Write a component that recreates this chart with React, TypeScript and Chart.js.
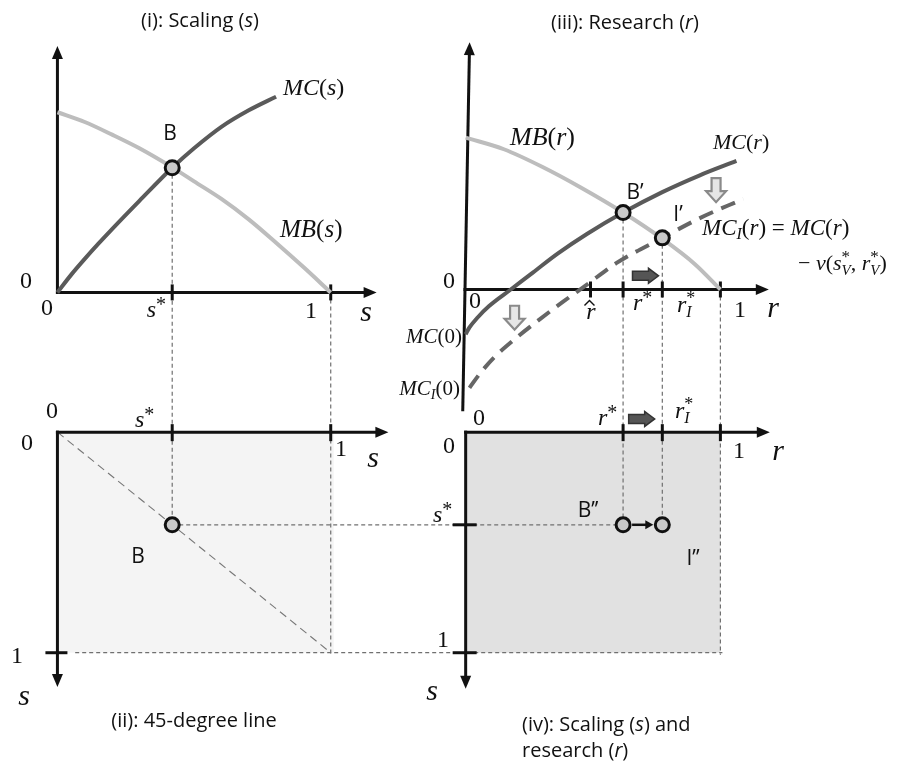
import React, { useEffect, useRef } from 'react';
import { Chart, registerables } from 'chart.js';

Chart.register(...registerables);

// ---------------- data ----------------
const S_STAR = 0.42;
const R_STAR = 0.618;
const R_I_STAR = 0.772;
const R_HAT = 0.49;

// panel (i): scaling
const MC_S_X = [0, 0.05, 0.1, 0.15, 0.2, 0.3, 0.42, 0.5, 0.6, 0.7, 0.8];
const MC_S_Y = [0, 0.09, 0.172, 0.25, 0.325, 0.47, 0.64, 0.74, 0.85, 0.935, 1.005];
const MB_S_X = [0, 0.1, 0.2, 0.3, 0.42, 0.5, 0.6, 0.7, 0.8, 0.9, 1.0];
const MB_S_Y = [0.925, 0.875, 0.81, 0.74, 0.642, 0.57, 0.48, 0.375, 0.255, 0.13, 0];

// panel (iii): research
const MB_R_X = [0, 0.15, 0.3, 0.45, 0.618, 0.772, 0.9, 1.0];
const MB_R_Y = [0.78, 0.72, 0.63, 0.525, 0.395, 0.26, 0.13, 0];
const MC_R_X = [0, 0.015, 0.046, 0.092, 0.177, 0.265, 0.361, 0.476, 0.618, 0.772, 0.917, 1.063];
const MC_R_Y = [-0.23, -0.195, -0.145, -0.085, 0, 0.088, 0.184, 0.285, 0.395, 0.5, 0.585, 0.66];
const MCI_R_X = [0.015, 0.054, 0.111, 0.188, 0.284, 0.38, 0.476, 0.591, 0.772, 0.917, 1.09];
const MCI_R_Y = [-0.505, -0.435, -0.35, -0.26, -0.16, -0.065, 0.025, 0.135, 0.265, 0.365, 0.465];

// equilibrium values
const B_VALUE = 0.64;      // MB(s*) = MC(s*)
const BP_VALUE = 0.395;    // MB(r*) = MC(r*)
const IP_VALUE = 0.265;    // MB(rI*) = MC_I(rI*)

// ---------------- layout ----------------
const W = 902;
const H = 764;
const L = {
  sOrigin: 48.5, sUnit: 279.5,
  rOrigin: 466, rUnit: 260.5,
  vIOrigin: 290, vIIIOrigin: 287, vUnit: 200,
  sdOrigin: 433.5, sdUnit: 226.5,
};

const zip = (xs: number[], ys: number[]) => xs.map((x, i) => ({ x, y: ys[i] }));

const it = (n: number) => `italic ${n}px "Liberation Serif"`;
const rm = (n: number) => `${n}px "Liberation Serif"`;
const sans = (n: number) => `${n}px "Open Sans"`;
const sansI = (n: number) => `italic ${n}px "Open Sans"`;

type Seg = { t: string; f: string; dy?: number; stay?: boolean };
type Label = { x: number; y: number; a: 'left' | 'center' | 'right'; s: Seg[] };

const fn = (name: string, arg: string, n: number, sub?: string): Seg[] => {
  const segs: Seg[] = [{ t: name, f: it(n) }];
  if (sub) segs.push({ t: sub, f: it(Math.round(n * 0.68)), dy: 4 });
  segs.push({ t: '(', f: rm(n) });
  segs.push({ t: arg, f: /\d/.test(arg) ? rm(n) : it(n) });
  segs.push({ t: ')', f: rm(n) });
  return segs;
};
const star = (v: string, n: number, sub?: string): Seg[] => {
  const segs: Seg[] = [{ t: v, f: it(n) }];
  if (sub) {
    segs.push({ t: '*', f: rm(Math.round(n * 0.75)), dy: -8, stay: true });
    segs.push({ t: sub, f: it(Math.round(n * 0.66)), dy: 5 });
  } else {
    segs.push({ t: '*', f: rm(Math.round(n * 0.83)), dy: -6 });
  }
  return segs;
};
const txt = (t: string, f: string): Seg[] => [{ t, f }];

const LABELS: Label[] = [
  // titles
  { x: 200, y: 27, a: 'center', s: [{ t: '(i): Scaling (', f: sans(20) }, { t: 's', f: sansI(20) }, { t: ')', f: sans(20) }] },
  { x: 625, y: 29, a: 'center', s: [{ t: '(iii): Research (', f: sans(20) }, { t: 'r', f: sansI(20) }, { t: ')', f: sans(20) }] },
  { x: 194, y: 727, a: 'center', s: txt('(ii): 45-degree line', sans(20)) },
  { x: 522, y: 731, a: 'left', s: [{ t: '(iv): Scaling (', f: sans(20) }, { t: 's', f: sansI(20) }, { t: ') and', f: sans(20) }] },
  { x: 522, y: 757, a: 'left', s: [{ t: 'research (', f: sans(20) }, { t: 'r', f: sansI(20) }, { t: ')', f: sans(20) }] },
  // panel (i)
  { x: 26, y: 288, a: 'center', s: txt('0', rm(24)) },
  { x: 47, y: 315, a: 'center', s: txt('0', rm(24)) },
  { x: 166, y: 317, a: 'right', s: star('s', 24) },
  { x: 311, y: 318, a: 'center', s: txt('1', rm(24)) },
  { x: 366, y: 321, a: 'center', s: txt('s', it(30)) },
  { x: 170, y: 140, a: 'center', s: txt('B', sans(21)) },
  { x: 283, y: 95, a: 'left', s: fn('MC', 's', 24) },
  { x: 280, y: 237, a: 'left', s: fn('MB', 's', 25) },
  // panel (iii)
  { x: 449, y: 288, a: 'center', s: txt('0', rm(24)) },
  { x: 475, y: 308, a: 'center', s: txt('0', rm(24)) },
  { x: 591, y: 319, a: 'center', s: txt('r', it(24)) },
  { x: 633, y: 310, a: 'left', s: star('r', 24) },
  { x: 677, y: 312, a: 'left', s: star('r', 24, 'I') },
  { x: 740, y: 317, a: 'center', s: txt('1', rm(24)) },
  { x: 773, y: 317, a: 'center', s: txt('r', it(30)) },
  { x: 510, y: 145, a: 'left', s: fn('MB', 'r', 26) },
  { x: 713, y: 149, a: 'left', s: fn('MC', 'r', 22) },
  { x: 635, y: 199, a: 'center', s: txt('B\u2019', sans(21)) },
  { x: 678, y: 221, a: 'center', s: txt('I\u2019', sans(21)) },
  { x: 702, y: 235, a: 'left', s: [...fn('MC', 'r', 23, 'I'), { t: ' = ', f: rm(23) }, ...fn('MC', 'r', 23)] },
  { x: 798, y: 270, a: 'left', s: [
    { t: '\u2212 ', f: rm(22) }, { t: 'v', f: it(22) }, { t: '(', f: rm(22) },
    ...star('s', 22, 'V'), { t: ', ', f: rm(22) }, ...star('r', 22, 'V'), { t: ')', f: rm(22) },
  ] },
  { x: 462, y: 343, a: 'right', s: fn('MC', '0', 21) },
  { x: 460, y: 395, a: 'right', s: fn('MC', '0', 21, 'I') },
  // panel (ii)
  { x: 52, y: 418, a: 'center', s: txt('0', rm(24)) },
  { x: 27, y: 450, a: 'center', s: txt('0', rm(24)) },
  { x: 135, y: 427, a: 'left', s: star('s', 24) },
  { x: 341, y: 456, a: 'center', s: txt('1', rm(24)) },
  { x: 373, y: 467, a: 'center', s: txt('s', it(30)) },
  { x: 17, y: 663, a: 'center', s: txt('1', rm(24)) },
  { x: 24, y: 705, a: 'center', s: txt('s', it(30)) },
  { x: 138, y: 563, a: 'center', s: txt('B', sans(21)) },
  // panel (iv)
  { x: 479, y: 425, a: 'center', s: txt('0', rm(24)) },
  { x: 449, y: 453, a: 'center', s: txt('0', rm(24)) },
  { x: 598, y: 425, a: 'left', s: star('r', 24) },
  { x: 675, y: 418, a: 'left', s: star('r', 24, 'I') },
  { x: 739, y: 458, a: 'center', s: txt('1', rm(24)) },
  { x: 778, y: 460, a: 'center', s: txt('r', it(30)) },
  { x: 433, y: 522, a: 'left', s: star('s', 24) },
  { x: 443, y: 647, a: 'center', s: txt('1', rm(24)) },
  { x: 432, y: 700, a: 'center', s: txt('s', it(30)) },
  { x: 588, y: 517, a: 'center', s: txt('B\u2019\u2019', sans(21)) },
  { x: 693, y: 565, a: 'center', s: txt('I\u2019\u2019', sans(21)) },
];

// ---------------- drawing helpers ----------------
function drawRich(ctx: CanvasRenderingContext2D, lab: Label) {
  let w = 0;
  for (const s of lab.s) {
    ctx.font = s.f;
    if (!s.stay) w += ctx.measureText(s.t).width;
  }
  let cx = lab.a === 'left' ? lab.x : lab.a === 'center' ? lab.x - w / 2 : lab.x - w;
  for (const s of lab.s) {
    ctx.font = s.f;
    ctx.fillText(s.t, cx, lab.y + (s.dy || 0));
    if (!s.stay) cx += ctx.measureText(s.t).width;
  }
}

function line(ctx: CanvasRenderingContext2D, x1: number, y1: number, x2: number, y2: number) {
  ctx.beginPath();
  ctx.moveTo(x1, y1);
  ctx.lineTo(x2, y2);
  ctx.stroke();
}

function arrowHead(ctx: CanvasRenderingContext2D, tx: number, ty: number, ang: number, len = 13, half = 5.5) {
  const c = Math.cos(ang), s = Math.sin(ang);
  const bx = tx - c * len, by = ty - s * len;
  ctx.beginPath();
  ctx.moveTo(tx, ty);
  ctx.lineTo(bx - s * half, by + c * half);
  ctx.lineTo(bx + s * half, by - c * half);
  ctx.closePath();
  ctx.fill();
}

function blockRight(ctx: CanvasRenderingContext2D, cx: number, cy: number) {
  ctx.save();
  ctx.beginPath();
  ctx.moveTo(cx - 13, cy - 4.5);
  ctx.lineTo(cx + 3, cy - 4.5);
  ctx.lineTo(cx + 3, cy - 7.5);
  ctx.lineTo(cx + 13, cy);
  ctx.lineTo(cx + 3, cy + 7.5);
  ctx.lineTo(cx + 3, cy + 4.5);
  ctx.lineTo(cx - 13, cy + 4.5);
  ctx.closePath();
  ctx.fillStyle = '#555';
  ctx.fill();
  ctx.strokeStyle = '#333';
  ctx.lineWidth = 1.5;
  ctx.setLineDash([]);
  ctx.stroke();
  ctx.restore();
}

function hollowDown(ctx: CanvasRenderingContext2D, cx: number, cy: number) {
  ctx.save();
  ctx.beginPath();
  ctx.moveTo(cx - 4.5, cy - 12);
  ctx.lineTo(cx + 4.5, cy - 12);
  ctx.lineTo(cx + 4.5, cy + 1);
  ctx.lineTo(cx + 10, cy + 1);
  ctx.lineTo(cx, cy + 12);
  ctx.lineTo(cx - 10, cy + 1);
  ctx.lineTo(cx - 4.5, cy + 1);
  ctx.closePath();
  ctx.fillStyle = '#e6e6e6';
  ctx.fill();
  ctx.strokeStyle = '#8a8a8a';
  ctx.lineWidth = 2.2;
  ctx.setLineDash([]);
  ctx.stroke();
  ctx.restore();
}

const diagramPlugin = {
  id: 'diagram',
  beforeDatasetsDraw(chart: any) {
    const ctx: CanvasRenderingContext2D = chart.ctx;
    const sc = chart.scales;
    const P = (id: string, v: number) => sc[id].getPixelForValue(v);
    ctx.save();

    // shaded boxes
    ctx.fillStyle = '#f4f4f4';
    ctx.fillRect(P('xS', 0), P('yS', 0), P('xS', 1) - P('xS', 0) + 3, P('yS', 1) - P('yS', 0));
    ctx.fillStyle = '#e1e1e1';
    ctx.fillRect(P('xR', 0), P('yS', 0), P('xR', 1) - P('xR', 0), P('yS', 1) - P('yS', 0));

    // dashed guide lines
    ctx.strokeStyle = '#707070';
    ctx.lineWidth = 1.2;
    ctx.setLineDash([4, 3]);
    line(ctx, P('xS', S_STAR), P('yI', B_VALUE), P('xS', S_STAR), P('yS', S_STAR));
    line(ctx, P('xS', 1), P('yI', 0), P('xS', 1), P('yS', 1) + 3);
    line(ctx, P('xS', S_STAR), P('yS', S_STAR), P('xR', R_STAR), P('yS', S_STAR));
    line(ctx, P('xS', 0.065), P('yS', 1), P('xR', 1) + 2, P('yS', 1));
    line(ctx, P('xR', R_STAR), P('yIII', BP_VALUE), P('xR', R_STAR), P('yS', S_STAR));
    line(ctx, P('xR', R_I_STAR), P('yIII', IP_VALUE), P('xR', R_I_STAR), P('yS', S_STAR));
    line(ctx, P('xR', 1), P('yIII', 0), P('xR', 1), P('yS', 1) + 2);
    // 45-degree line
    ctx.strokeStyle = '#777';
    ctx.lineWidth = 1.1;
    ctx.setLineDash([8, 5]);
    line(ctx, P('xS', 0), P('yS', 0), P('xS', 1), P('yS', 1));
    ctx.setLineDash([]);

    // axes
    ctx.strokeStyle = '#111';
    ctx.fillStyle = '#111';
    ctx.lineWidth = 3;
    ctx.lineCap = 'butt';
    // (i)
    const ox1 = P('xS', 0), oy1 = P('yI', 0);
    const tipY1 = P('yI', 1.265), tipX1 = P('xS', 1.168);
    line(ctx, ox1, oy1 + 1.5, ox1, tipY1 + 10);
    arrowHead(ctx, ox1, tipY1, -Math.PI / 2);
    line(ctx, ox1 - 1.5, oy1, tipX1 - 10, oy1);
    arrowHead(ctx, tipX1, oy1, 0);
    for (const v of [S_STAR, 1]) line(ctx, P('xS', v), oy1 - 8, P('xS', v), oy1 + 8);
    // (iii)
    const oy3 = P('yIII', 0);
    const bx3 = P('xR', -0.0115), by3 = P('yIII', -0.625);
    const tx3 = P('xR', 0.0154), ty3 = P('yIII', 1.27);
    const ang3 = Math.atan2(ty3 - by3, tx3 - bx3);
    line(ctx, bx3, by3, tx3 - Math.cos(ang3) * 10, ty3 - Math.sin(ang3) * 10);
    arrowHead(ctx, tx3, ty3, ang3);
    const ax3 = bx3 + (tx3 - bx3) * (oy3 - by3) / (ty3 - by3);
    const tipX3 = P('xR', 1.19);
    line(ctx, ax3 - 1.5, oy3, tipX3 - 10, oy3);
    arrowHead(ctx, tipX3, oy3, 0);
    for (const v of [R_HAT, R_STAR, R_I_STAR, 1]) line(ctx, P('xR', v), oy3 - 8, P('xR', v), oy3 + 8);
    // hat over r-hat label
    const hx = P('xR', R_HAT) - 1;
    ctx.lineWidth = 1.4;
    ctx.beginPath();
    ctx.moveTo(hx - 5, oy3 + 16);
    ctx.lineTo(hx, oy3 + 11);
    ctx.lineTo(hx + 5, oy3 + 16);
    ctx.stroke();
    ctx.lineWidth = 3;
    // (ii)
    const ox2 = P('xS', 0), oy2 = P('yS', 0);
    const tipX2 = P('xS', 1.211), tipY2 = P('yS', 1.155);
    line(ctx, ox2 - 1.5, oy2, tipX2 - 10, oy2);
    arrowHead(ctx, tipX2, oy2, 0);
    line(ctx, ox2, oy2 - 1.5, ox2, tipY2 - 10);
    arrowHead(ctx, ox2, tipY2, Math.PI / 2);
    for (const v of [S_STAR, 1]) line(ctx, P('xS', v), oy2 - 8, P('xS', v), oy2 + 9);
    line(ctx, ox2 - 12, P('yS', 1), ox2 + 10, P('yS', 1));
    // (iv)
    const ox4 = P('xR', 0), oy4 = P('yS', 0);
    const tipX4 = P('xR', 1.194), tipY4 = P('yS', 1.163);
    line(ctx, ox4 - 1.5, oy4, tipX4 - 10, oy4);
    arrowHead(ctx, tipX4, oy4, 0);
    line(ctx, ox4, oy4 - 1.5, ox4, tipY4 - 10);
    arrowHead(ctx, ox4, tipY4, Math.PI / 2);
    for (const v of [R_STAR, R_I_STAR, 1]) line(ctx, P('xR', v), oy4 - 8, P('xR', v), oy4 + 9);
    for (const v of [S_STAR, 1]) line(ctx, ox4 - 13, P('yS', v), ox4 + 11, P('yS', v));

    ctx.restore();
  },
  afterDatasetsDraw(chart: any) {
    const ctx: CanvasRenderingContext2D = chart.ctx;
    const sc = chart.scales;
    const P = (id: string, v: number) => sc[id].getPixelForValue(v);
    ctx.save();

    // shift arrows
    blockRight(ctx, P('xR', 0.706), P('yIII', 0.07));
    blockRight(ctx, P('xR', 0.691), P('yS', -0.06));
    hollowDown(ctx, P('xR', 0.983), P('yIII', 0.51));
    hollowDown(ctx, P('xR', 0.192), P('yIII', -0.145));

    // small arrow B'' -> I''
    const ay = P('yS', S_STAR);
    const ax1 = P('xR', R_STAR) + 9, ax2 = P('xR', R_I_STAR) - 9;
    ctx.strokeStyle = '#111';
    ctx.fillStyle = '#111';
    ctx.lineWidth = 2.5;
    line(ctx, ax1, ay, ax2 - 6, ay);
    arrowHead(ctx, ax2, ay, 0, 8, 4.5);

    // labels
    ctx.fillStyle = '#111';
    ctx.textBaseline = 'alphabetic';
    ctx.textAlign = 'left';
    for (const lab of LABELS) drawRich(ctx, lab);
    ctx.restore();
  },
};

const curve = (data: any[], color: string, xId: string, yId: string, dash: number[] = []) => ({
  data,
  xAxisID: xId,
  yAxisID: yId,
  order: 2,
  borderColor: color,
  borderWidth: 4,
  borderDash: dash,
  borderCapStyle: 'butt',
  pointRadius: 0,
  fill: false,
  showLine: true,
  cubicInterpolationMode: 'monotone',
});

const pts = (data: any[], xId: string, yId: string) => ({
  data,
  xAxisID: xId,
  yAxisID: yId,
  order: 0,
  showLine: false,
  pointRadius: 7,
  pointBorderWidth: 3,
  pointBackgroundColor: '#c9c9c9',
  pointBorderColor: '#111',
  borderColor: '#111',
  backgroundColor: '#c9c9c9',
});

const hidden = (axis: 'x' | 'y', min: number, max: number, reverse = false) => ({
  type: 'linear',
  axis,
  position: axis === 'x' ? 'bottom' : 'left',
  display: false,
  min,
  max,
  reverse,
  grid: { display: false },
});

export default function App() {
  const ref = useRef<HTMLCanvasElement>(null);
  useEffect(() => {
    document.body.style.margin = '0';
    const canvas = ref.current;
    if (!canvas) return;
    const chart = new Chart(canvas, {
      type: 'line',
      data: {
        datasets: [
          pts([{ x: S_STAR, y: B_VALUE }], 'xS', 'yI'),
          pts([{ x: S_STAR, y: S_STAR }], 'xS', 'yS'),
          pts([{ x: R_STAR, y: BP_VALUE }, { x: R_I_STAR, y: IP_VALUE }], 'xR', 'yIII'),
          pts([{ x: R_STAR, y: S_STAR }, { x: R_I_STAR, y: S_STAR }], 'xR', 'yS'),
          curve(zip(MC_S_X, MC_S_Y), '#5a5a5a', 'xS', 'yI'),
          curve(zip(MB_S_X, MB_S_Y), '#bdbdbd', 'xS', 'yI'),
          curve(zip(MC_R_X, MC_R_Y), '#5a5a5a', 'xR', 'yIII'),
          curve(zip(MCI_R_X, MCI_R_Y), '#666666', 'xR', 'yIII', [15, 9]),
          curve(zip(MB_R_X, MB_R_Y), '#bdbdbd', 'xR', 'yIII'),
        ] as any,
      },
      options: {
        responsive: false,
        animation: false,
        devicePixelRatio: 1,
        events: [],
        layout: { padding: 0 },
        plugins: { legend: { display: false }, tooltip: { enabled: false }, title: { display: false } },
        scales: {
          xS: hidden('x', -L.sOrigin / L.sUnit, (W - L.sOrigin) / L.sUnit),
          xR: hidden('x', -L.rOrigin / L.rUnit, (W - L.rOrigin) / L.rUnit),
          yI: hidden('y', (L.vIOrigin - H) / L.vUnit, L.vIOrigin / L.vUnit),
          yIII: hidden('y', (L.vIIIOrigin - H) / L.vUnit, L.vIIIOrigin / L.vUnit),
          yS: hidden('y', -L.sdOrigin / L.sdUnit, (H - L.sdOrigin) / L.sdUnit, true),
        } as any,
      },
      plugins: [diagramPlugin],
    } as any);
    return () => chart.destroy();
  }, []);
  return (
    <div style={{ position: 'absolute', left: 0, top: 0, width: W, height: H, background: '#fff' }}>
      <canvas ref={ref} width={W} height={H} style={{ width: W, height: H, display: 'block' }} />
    </div>
  );
}
